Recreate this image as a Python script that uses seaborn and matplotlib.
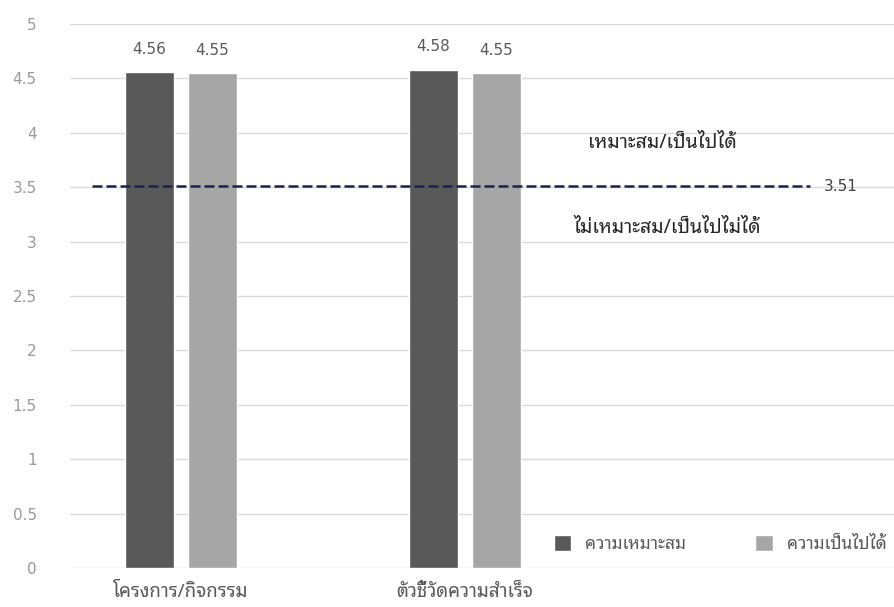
import matplotlib
matplotlib.use("Agg")
import matplotlib.pyplot as plt
import seaborn as sns
import pandas as pd

categories = ["โครงการ/กิจกรรม", "ตัวชี้วัดความสำเร็จ"]
series_names = ["ความเหมาะสม", "ความเป็นไปได้"]
suitability = [4.56, 4.58]
feasibility = [4.55, 4.55]
threshold = 3.51
above_label = "เหมาะสม/เป็นไปได้"
below_label = "ไม่เหมาะสม/เป็นไปไม่ได้"
yticks = [0, 0.5, 1, 1.5, 2, 2.5, 3, 3.5, 4, 4.5, 5]
ytick_labels = ["0", "0.5", "1", "1.5", "2", "2.5", "3", "3.5", "4", "4.5", "5"]

df = pd.DataFrame({
    "category": categories * 2,
    "series": [series_names[0]] * 2 + [series_names[1]] * 2,
    "value": suitability + feasibility,
})

sns.set_theme(style="white")
FONT = ["Noto Sans Thai Looped", "DejaVu Sans"]
plt.rcParams["font.family"] = FONT

fig = plt.figure(figsize=(8.95, 6.07), dpi=100)
ax = fig.add_axes([70 / 895, 39 / 607, 825 / 895, 544 / 607])

colors = {series_names[0]: "#595959", series_names[1]: "#a6a6a6"}
sns.barplot(data=df, x="category", y="value", hue="series", palette=colors,
            width=0.444, gap=0.22, ax=ax, zorder=2, saturation=1)

for cont in ax.containers:
    ax.bar_label(cont, labels=[f"{v:.2f}" for v in cont.datavalues], padding=11,
                 fontsize=11, color="#595959", family="DejaVu Sans")

ax.set_xlim(-0.391, 2.514)
ax.set_ylim(0, 5)
ax.set_yticks(yticks)
ax.set_yticklabels(ytick_labels, color="#999999", fontsize=11, family="DejaVu Sans")
ax.set_xticks([0, 1])
ax.set_xticklabels(categories, color="#595959", fontsize=13.5)
ax.tick_params(axis="y", length=0, pad=24)
ax.tick_params(axis="x", length=0, pad=11)
ax.grid(axis="y", color="#d9d9d9", linewidth=1, zorder=0)
ax.set_axisbelow(True)
for s in ax.spines.values():
    s.set_visible(False)
ax.set_xlabel("")
ax.set_ylabel("")

ax.plot([-0.313, 2.215], [threshold, threshold], linestyle=(0, (4, 1.6)),
        color="#1a2350", linewidth=1.8, zorder=3)
ax.text(2.265, threshold, f"{threshold:.2f}", va="center", ha="left",
        fontsize=11, color="#404040", family="DejaVu Sans")
ax.text(1.694, 3.906, above_label, ha="center", va="center", fontsize=14, color="#262626")
ax.text(1.711, 3.125, below_label, ha="center", va="center", fontsize=14, color="#262626")

leg = ax.legend(loc="lower right", bbox_to_anchor=(1.0, 0.012), ncol=2, frameon=False,
                fontsize=12.5, handlelength=1.0, handleheight=1.0, columnspacing=4.0,
                handletextpad=0.8, borderaxespad=0.1)
for t in leg.get_texts():
    t.set_color("#595959")

fig.savefig("out.png", dpi=100)
